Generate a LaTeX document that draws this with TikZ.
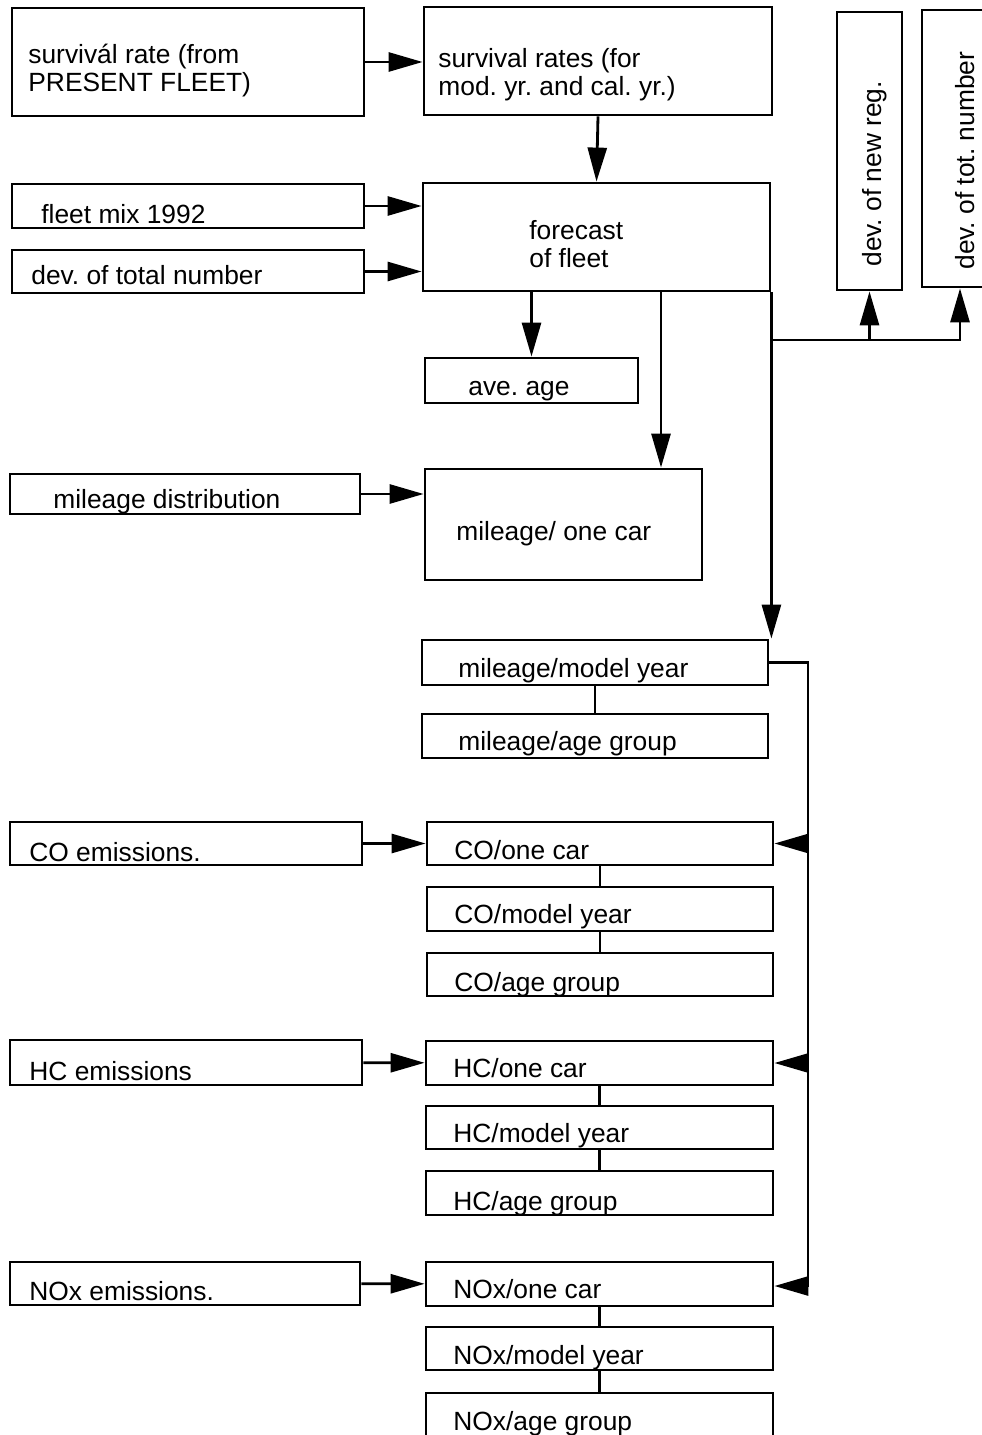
\documentclass[tikz,border=0pt]{standalone}
\usepackage{fontspec}
\setmainfont{Liberation Sans}
\usetikzlibrary{arrows.meta,fit}
\frenchspacing

% box from corner (x1,y1) to (x2,y2), text baseline (last line) at (tx,ty)
\newcommand{\blk}[8]{%
  \node[blk, fit={(#2,#3) (#4,#5)}] (#1) {};
  \node[txt] (#1-t) at (#6,#7) {#8};}

\begin{document}
\begin{tikzpicture}[x=0.02cm, y=-0.02cm, line width=1.6pt,
    blk/.style={draw, inner sep=0pt},
    txt/.style={inner sep=0pt, anchor=base west, align=left,
      font=\fontsize{15}{16}\selectfont},
    arr/.style={-{Triangle[length=0.68cm,width=0.38cm]}}]
  \useasboundingbox (0,0) rectangle (982,1435);

  % inputs on the left
  \blk{surv}{12}{8}{364}{116}{27}{92}{survivál rate (from\\PRESENT FLEET)}
  \blk{mix}{12}{184}{364}{228}{40}{224}{fleet mix 1992}
  \blk{devnum}{12}{250}{364}{293}{30}{285}{dev. of total number}
  \blk{mdist}{10}{474}{360}{514}{52}{508}{mileage distribution}
  \blk{coem}{10}{822}{362}{865}{28}{861}{CO emissions.}
  \blk{hcem}{10}{1040}{362}{1085}{28}{1080}{HC emissions}
  \blk{noxem}{10}{1262}{360}{1305}{28}{1300}{NOx emissions.}

  % fleet part
  \blk{srates}{424}{7}{772}{115}{437}{96}{survival rates (for\\mod. yr. and cal. yr.)}
  \blk{fcast}{423}{183}{770}{291}{528}{268}{forecast\\of fleet}
  \blk{age}{425}{358}{638}{403}{467}{396}{ave. age}
  \blk{monecar}{425}{469}{702}{580}{455}{540}{mileage/ one car}
  \blk{mmodel}{422}{640}{768}{685}{457}{677}{mileage/model year}
  \blk{mage}{422}{714}{768}{758}{457}{750}{mileage/age group}

  % emissions
  \blk{coone}{427}{822}{773}{865}{453}{859}{CO/one car}
  \blk{comodel}{427}{887}{773}{931}{453}{923}{CO/model year}
  \blk{coage}{427}{953}{773}{996}{453}{991}{CO/age group}
  \blk{hcone}{426}{1041}{773}{1085}{452}{1077}{HC/one car}
  \blk{hcmodel}{426}{1106}{773}{1149}{452}{1142}{HC/model year}
  \blk{hcage}{426}{1171}{773}{1215}{452}{1210}{HC/age group}
  \blk{noxone}{426}{1262}{773}{1306}{452}{1298}{NOx/one car}
  \blk{noxmodel}{426}{1327}{773}{1370}{452}{1364}{NOx/model year}
  \blk{noxage}{426}{1393}{773}{1440}{452}{1430}{NOx/age group}

  % rotated boxes on the right
  \node[blk, fit={(837,12) (902,290)}] (devnew) {};
  \node[txt, rotate=90] (devnew-t) at (881,268) {dev. of new reg.};
  \node[blk, fit={(922,10) (985,287)}] (devtot) {};
  \node[txt, rotate=90] (devtot-t) at (974,271) {dev. of tot. number};

  % connectors
  \coordinate (mx) at (661,0);
  \coordinate (br) at (770,340);
  \coordinate (dt) at (960,0);
  \coordinate (bt) at (808,1286);

  \draw[arr] (surv) -- (surv -| srates.west);
  \draw[arr] (srates.south) -- (fcast.north);
  \draw[arr] (mix.east) -- (mix.east -| fcast.west);
  \draw[arr] (devnum.east) -- (devnum.east -| fcast.west);
  \draw[arr] (age.north |- fcast.south) -- (age.north);
  \draw[arr] (fcast.south -| mx) -- (monecar.north -| mx);
  \draw[arr] (fcast.south east) -- (fcast.south east |- mmodel.north);
  \draw[arr] (br) -| (devnew.south);
  \draw[arr] (br) -| (devtot.south -| dt);
  \draw[arr] (mdist.east) -- (mdist.east -| monecar.west);
  \draw (mmodel.south) -- (mage.north);

  \draw (mmodel.east) -| (bt);
  \draw[arr] (coone.east -| bt) -- (coone.east);
  \draw[arr] (hcone.east -| bt) -- (hcone.east);
  \draw[arr] (bt) -- (bt -| noxone.east);

  \draw[arr] (coem) -- (coone);
  \draw[arr] (hcem) -- (hcone);
  \draw[arr] (noxem) -- (noxone);
  \draw (coone) -- (comodel) -- (coage);
  \draw (hcone) -- (hcmodel) -- (hcage);
  \draw (noxone) -- (noxmodel) -- (noxage);
\end{tikzpicture}
\end{document}
